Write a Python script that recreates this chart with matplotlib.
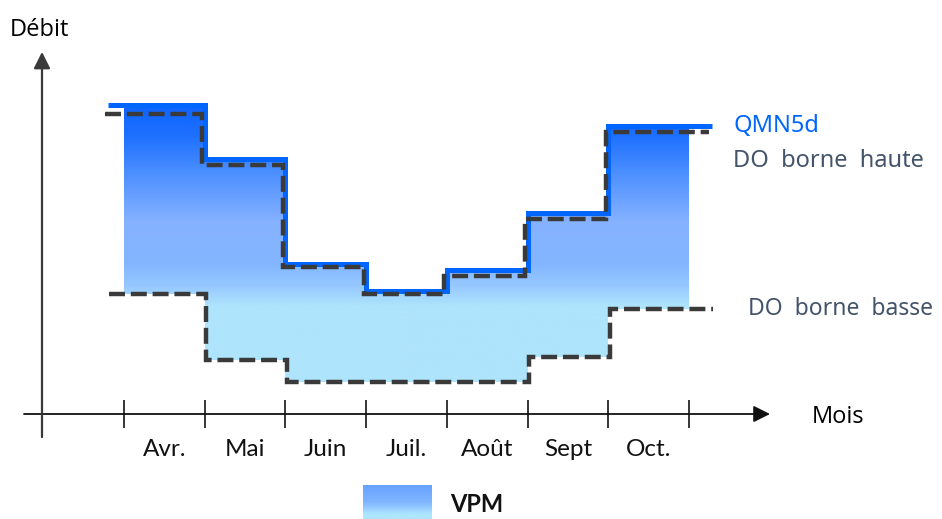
"""
Schéma VPM : QMN5d et bornes du débit objectif, par mois
"""
import matplotlib.pyplot as plt
import numpy as np
from matplotlib.colors import LinearSegmentedColormap

# Données (unités arbitraires de débit)
months = ["Avr.", "Mai", "Juin", "Juil.", "Août", "Sept", "Oct."]
qmn5d = [10.3, 8.5, 5.0, 4.1, 4.8, 6.7, 9.6]
do_haute = [10.0, 8.3, 4.9, 4.0, 4.6, 6.5, 9.4]
do_basse = [4.0, 1.8, 1.07, 1.07, 1.07, 1.9, 3.5]

plt.rcParams["font.family"] = ["Lato", "DejaVu Sans"]
plt.rcParams["lines.scale_dashes"] = False

fig = plt.figure(figsize=(9.42, 5.19), dpi=100)
ax = fig.add_axes([0, 0, 1, 1])
ax.set_xlim(-1.5364, 10.135)
ax.set_ylim(-3.5, 13.8)
ax.patch.set_visible(False)

n = len(months)
edges = np.r_[-0.2, np.arange(1, n), n + 0.28]
xs = np.arange(n + 1)

# remplissage en dégradé (VPM) entre QMN5d et la borne basse
poly = ax.fill_between(xs, do_basse + do_basse[-1:], qmn5d + qmn5d[-1:],
                       step="post", facecolor="none", edgecolor="none")
grad_cmap = LinearSegmentedColormap.from_list("vpm", [
    (0.0, "#AEE4FC"), (3.6 / 10.5, "#AEE4FC"), (4.3 / 10.5, "#95C7FF"),
    (5.0 / 10.5, "#83B6FF"), (6.4 / 10.5, "#86B2FF"), (8.1 / 10.5, "#4A8EFF"),
    (9.3 / 10.5, "#1E70FF"), (1.0, "#0A62FF")])
grad = np.linspace(0, 1, 256).reshape(-1, 1)
img = ax.imshow(grad, cmap=grad_cmap, origin="lower", aspect="auto",
                extent=[-0.1, n + 0.1, 0, 10.5], zorder=1)
img.set_clip_path(poly.get_paths()[0], transform=ax.transData)

# courbes en escalier
ax.stairs(qmn5d, edges, baseline=None, color="#0066FF", lw=3.6, zorder=3)
dash_kw = dict(baseline=None, color="#3A3A3A", lw=3.2, zorder=4,
               linestyle=(0, (11.5, 4.2)))
ax.stairs(do_haute, edges - 0.03, **dash_kw)
ax.stairs(do_basse, edges + 0.02, **dash_kw)

# axes dessinés à la main (flèches)
for s in ax.spines.values():
    s.set_visible(False)
ax.spines["bottom"].set_position(("data", 0))
ax.annotate("", xy=(8.004, 0), xytext=(-1.239, 0),
            arrowprops=dict(arrowstyle="-|>,head_length=1.0,head_width=0.5",
                            color="#111111", lw=1.3, shrinkA=0, shrinkB=0))
ax.annotate("", xy=(-1.016, 12.07), xytext=(-1.016, -0.77),
            arrowprops=dict(arrowstyle="-|>,head_length=1.0,head_width=0.5",
                            color="#3a3a3a", lw=1.6, shrinkA=0, shrinkB=0))

ax.set_xticks(xs)
ax.set_xticklabels([])
ax.tick_params(axis="x", which="major", direction="inout", length=19.5,
               width=1.1, color="black")
ax.set_xticks(np.arange(n) + 0.5, minor=True)
ax.set_xticklabels(months, minor=True, fontsize=17.5, color="#111111")
ax.tick_params(axis="x", which="minor", length=0, pad=18)
ax.set_yticks([])

# textes
ax.text(-1.41, 12.8, "Débit", fontsize=17, family=["Open Sans", "DejaVu Sans"],
        va="center", ha="left")
ax.text(8.52, -0.1, "Mois", fontsize=17, family=["Open Sans", "DejaVu Sans"],
        va="center", ha="left")
lab_kw = dict(fontsize=17, family=["Noto Sans", "DejaVu Sans"], va="center", ha="left")
ax.text(7.55, qmn5d[-1], "QMN5d", color="#0066FF", **lab_kw)
ax.text(7.55, qmn5d[-1] - 1.17, "DO  borne  haute", color="#44546A", **lab_kw)
ax.text(7.73, do_basse[-1], "DO  borne  basse", color="#44546A",
        **dict(lab_kw, fontsize=16.5))

# légende (coupée en bas comme l'original)
lax = fig.add_axes([363 / 942, -8 / 519, 69 / 942, 42 / 519])
leg_cmap = LinearSegmentedColormap.from_list(
    "leg", [(0.0, "#AEE6FF"), (0.3, "#AEE6FF"), (0.6, "#7FB4FF"), (1.0, "#66A2FF")])
lax.imshow(grad, cmap=leg_cmap, origin="lower", aspect="auto")
lax.axis("off")
fig.text(477 / 942, 14 / 519, "VPM", fontsize=17, fontweight="bold",
         ha="center", va="center", color="#111111")

plt.savefig("out.png", dpi=100)
plt.close()
